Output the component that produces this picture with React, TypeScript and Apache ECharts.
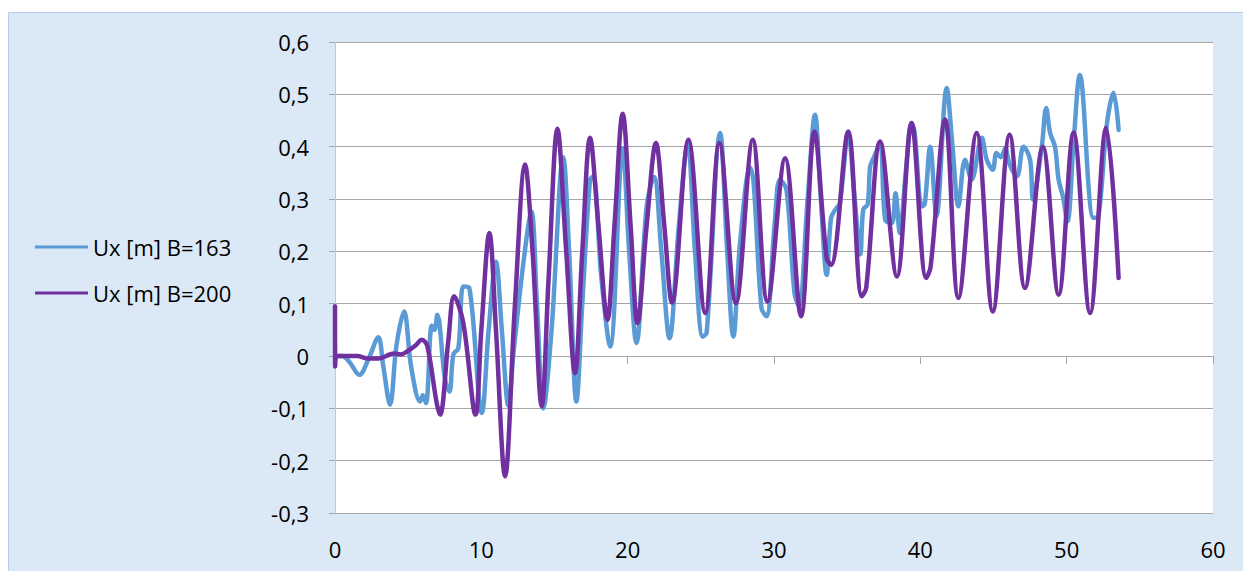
import React, { useEffect, useRef } from "react";
import * as echarts from "echarts";

// Horizontal displacement Ux [m] against position, two values of B
const seriesNames = ["Ux [m] B=163", "Ux [m] B=200"];

const uxB163: [number, number][] = [
  [0, 0], [0.5, 0], [1.0, -0.012], [1.66, -0.036], [2.3, -0.005], [2.96, 0.036],
  [3.3, -0.02], [3.76, -0.093], [4.2, 0.02], [4.72, 0.085], [5.2, -0.02], [5.81, -0.087],
  [6.0, -0.075], [6.22, -0.09], [6.61, 0.058], [6.8, 0.05], [6.99, 0.079], [7.52, -0.045],
  [7.82, -0.068], [8.09, 0.003], [8.43, 0.015], [8.77, 0.133], [9.18, 0.13], [10.03, -0.109],
  [10.5, 0.05], [11.0, 0.18], [11.4, 0.05], [11.85, -0.095], [12.2, 0.006], [12.9, 0.184],
  [13.42, 0.276], [13.8, 0.1], [14.24, -0.1], [14.8, 0.05], [15.6, 0.38], [16.0, 0.2],
  [16.5, -0.087], [16.9, 0.1], [17.43, 0.337], [17.65, 0.343], [18.2, 0.15], [18.8, 0.018],
  [19.66, 0.397], [20.1, 0.2], [20.6, 0.025], [21.3, 0.286], [21.8, 0.342], [22.3, 0.2],
  [22.86, 0.034], [23.5, 0.25], [24.1, 0.405], [24.6, 0.2], [25.13, 0.037], [25.4, 0.045],
  [26.32, 0.426], [26.8, 0.2], [27.22, 0.037], [27.68, 0.216], [28.37, 0.36], [28.6, 0.334],
  [29.14, 0.092], [29.48, 0.076], [30.05, 0.254], [30.4, 0.337], [30.85, 0.318], [31.4, 0.12],
  [31.7, 0.095], [32.3, 0.3], [32.8, 0.461], [33.2, 0.3], [33.6, 0.155], [33.9, 0.264],
  [34.2, 0.28], [34.5, 0.292], [35.07, 0.425], [35.5, 0.305], [35.9, 0.194], [36.1, 0.28],
  [36.4, 0.29], [36.57, 0.362], [36.8, 0.378], [37.25, 0.405], [37.6, 0.26], [38.05, 0.254],
  [38.3, 0.311], [38.6, 0.235], [39.0, 0.35], [39.4, 0.445], [39.6, 0.43], [40.1, 0.286],
  [40.3, 0.29], [40.67, 0.4], [41.1, 0.267], [41.8, 0.512], [42.2, 0.4], [42.6, 0.286],
  [43.05, 0.375], [43.5, 0.337], [44.2, 0.417], [44.54, 0.375], [44.95, 0.356], [45.2, 0.388],
  [45.5, 0.38], [45.8, 0.397], [46.1, 0.366], [46.6, 0.343], [47.05, 0.4], [47.5, 0.375],
  [47.7, 0.299], [48.3, 0.4], [48.6, 0.474], [48.87, 0.426], [49.2, 0.4], [49.45, 0.337],
  [49.74, 0.305], [50.05, 0.257], [50.47, 0.407], [50.9, 0.537], [51.83, 0.264], [52.17, 0.267],
  [52.73, 0.439], [53.2, 0.503], [53.55, 0.432],
];

const uxB200: [number, number][] = [
  [0, 0.095], [0.01, -0.02], [0.1, 0], [1.5, 0], [2.3, -0.005], [3.0, -0.005], [3.5, 0],
  [4.0, 0.005], [4.5, 0.003], [5.0, 0.01], [5.5, 0.02], [5.93, 0.031], [6.3, 0.02],
  [6.95, -0.09], [7.18, -0.112], [7.75, 0.031], [8.14, 0.114], [8.77, 0.063], [9.6, -0.112],
  [10.0, 0.05], [10.55, 0.235], [11.0, 0.05], [11.62, -0.23], [12.3, 0.1], [12.99, 0.366],
  [13.5, 0.2], [14.13, -0.096], [14.6, 0.15], [15.2, 0.434], [15.8, 0.2], [16.4, -0.033],
  [16.9, 0.2], [17.43, 0.417], [18.0, 0.25], [18.62, 0.069], [19.1, 0.25], [19.66, 0.463],
  [20.2, 0.25], [20.67, 0.063], [21.3, 0.25], [21.93, 0.407], [22.5, 0.25], [23.03, 0.102],
  [24.15, 0.413], [25.3, 0.082], [26.27, 0.407], [27.4, 0.101], [28.55, 0.413], [29.55, 0.104],
  [30.76, 0.378], [31.85, 0.076], [32.76, 0.429], [33.6, 0.187], [33.9, 0.174], [35.07, 0.429],
  [36.0, 0.114], [36.3, 0.13], [37.25, 0.41], [38.4, 0.152], [39.4, 0.445], [40.4, 0.149],
  [40.7, 0.17], [41.7, 0.452], [42.6, 0.111], [43.85, 0.426], [44.95, 0.085], [46.1, 0.423],
  [47.15, 0.13], [48.37, 0.4], [49.45, 0.117], [50.47, 0.427], [51.6, 0.082], [52.7, 0.436],
  [53.55, 0.149],
];

const xMin = 0;
const xMax = 60;
const xStep = 10;
const yMin = -0.3;
const yMax = 0.6;
const yStep = 0.1;

const seriesColors = ["#5b9bd5", "#7030a0"];
const FONT = "'Open Sans', sans-serif";

const formatY = (v: number) => {
  const r = Math.round(v * 10) / 10;
  return r === 0 ? "0" : r.toFixed(1).replace(".", ",");
};

export default function App() {
  const ref = useRef<HTMLDivElement>(null);

  useEffect(() => {
    if (!ref.current) return;
    const chart = echarts.init(ref.current, undefined, { renderer: "svg" });
    const gray = "#a6a6a6";
    chart.setOption({
      animation: false,
      backgroundColor: "#dbe8f5",
      textStyle: { fontFamily: FONT },
      graphic: [
        {
          type: "rect",
          shape: { x: 0.5, y: 0.5, width: 1240, height: 600 },
          style: { fill: "none", stroke: "#b3cdee", lineWidth: 1 },
          silent: true,
        },
      ],
      grid: { left: 327, top: 30, right: 30, bottom: 58, backgroundColor: "#ffffff", show: true, borderWidth: 0 },
      legend: {
        orient: "vertical",
        left: 22,
        top: 219,
        itemWidth: 53,
        itemHeight: 3,
        itemGap: 24,
        icon: "rect",
        data: seriesNames.map((n, i) => ({
          name: n,
          itemStyle: { color: seriesColors[i] },
        })),
        textStyle: { fontFamily: FONT, fontSize: 22, color: "#000", lineHeight: 20, padding: 0 },
      },
      xAxis: [
        {
          type: "value",
          position: "bottom",
          min: xMin,
          max: xMax,
          interval: xStep,
          axisLine: { show: false, onZero: false },
          axisTick: { show: false },
          splitLine: { show: false },
          axisLabel: { fontFamily: FONT, fontSize: 22, color: "#000", margin: 25 },
        },
        {
          type: "value",
          position: "top",
          min: xMin,
          max: xMax,
          interval: xStep,
          axisLine: { show: true, onZero: true, lineStyle: { color: gray, width: 1 } },
          axisTick: { show: true, inside: true, length: 8, lineStyle: { color: gray } },
          splitLine: { show: false },
          axisLabel: { show: false },
        },
      ],
      yAxis: {
        type: "value",
        min: yMin,
        max: yMax,
        interval: yStep,
        axisLine: { show: true, onZero: false, lineStyle: { color: "#c0c8d4", width: 1 } },
        axisTick: { show: true, length: 6, lineStyle: { color: gray } },
        splitLine: { show: true, lineStyle: { color: gray, width: 1 } },
        axisLabel: { fontFamily: FONT, fontSize: 22, color: "#000", margin: 26, formatter: formatY },
      },
      series: [uxB163, uxB200].map((d, i) => ({
        name: seriesNames[i],
        type: "line",
        xAxisIndex: 0,
        data: d,
        symbol: "none",
        smooth: 0.35,
        lineStyle: { color: seriesColors[i], width: 4.5, cap: "round", join: "round" },
        itemStyle: { color: seriesColors[i] },
        z: 2 + i,
      })),
    });
    return () => chart.dispose();
  }, []);

  return (
    <div
      ref={ref}
      style={{ position: "absolute", left: 8, top: 12, width: 1235, height: 559 }}
    />
  );
}
